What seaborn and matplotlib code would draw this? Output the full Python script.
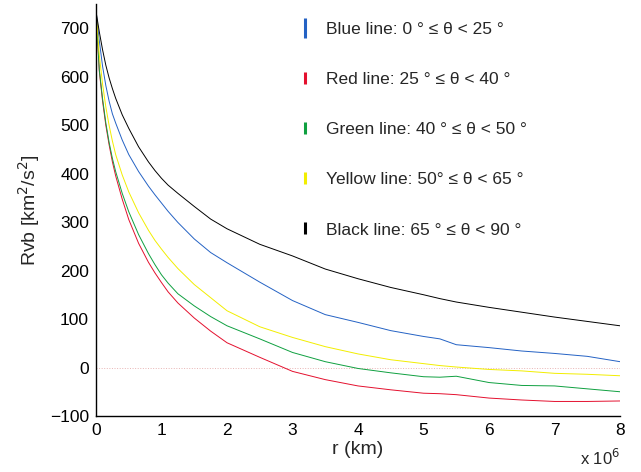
import numpy as np
import pandas as pd
import matplotlib
matplotlib.use("Agg")
import matplotlib.pyplot as plt
from matplotlib.lines import Line2D
import seaborn as sns

# r in units of 1e6 km
r = [0, 0.05, 0.1, 0.15, 0.2, 0.25, 0.3, 0.4, 0.5, 0.65, 0.8, 0.9, 1.0, 1.1,
     1.25, 1.5, 1.75, 2.0, 2.5, 3.0, 3.5, 4.0, 4.5, 5.0, 5.25, 5.5, 6.0, 6.5,
     7.0, 7.5, 8.0]

blue = [735, 675, 622, 582, 550, 524, 505, 470, 440, 405, 375, 357, 340, 323,
        300, 266, 238, 217, 177, 139, 110, 94, 77, 65, 60, 48, 42, 35, 30, 24, 13]
red = [735, 612, 550, 500, 460, 425, 396, 348, 306, 257, 218, 196, 176, 157,
       134, 103, 76, 52, 22, -7, -24, -37, -45, -52, -53, -55, -62, -66, -69,
       -69, -68]
green = [735, 615, 555, 505, 465, 432, 405, 360, 322, 275, 236, 213, 192, 175,
         153, 128, 106, 87, 60, 32, 13, -1, -10, -18, -19, -17, -30, -36, -37,
         -43, -49]
yellow = [735, 645, 585, 538, 500, 468, 440, 398, 363, 320, 284, 263, 245, 228,
          205, 172, 145, 118, 85, 63, 44, 29, 17, 9, 5, 2, -3, -6, -11, -13, -16]
black = [735, 693, 656, 624, 598, 576, 556, 522, 494, 456, 425, 407, 391, 377,
         360, 333, 307, 287, 255, 231, 204, 184, 166, 151, 143, 136, 125, 115,
         105, 96, 87]

names = ["Blue", "Red", "Green", "Yellow", "Black"]
labels = ["Blue line: 0 \u00b0 \u2264 \u03b8 < 25 \u00b0",
          "Red line: 25 \u00b0 \u2264 \u03b8 < 40 \u00b0",
          "Green line: 40 \u00b0 \u2264 \u03b8 < 50 \u00b0",
          "Yellow line: 50\u00b0 \u2264 \u03b8 < 65 \u00b0",
          "Black line: 65 \u00b0 \u2264 \u03b8 < 90 \u00b0"]
colors = ["#2462c4", "#e4102e", "#0fa040", "#f2ee00", "#000000"]

df = pd.concat([pd.DataFrame({"r": r, "Rvb": v, "line": n})
                for n, v in zip(names, [blue, red, green, yellow, black])])

sns.set_style("white")
plt.rcParams["font.family"] = ["Liberation Sans", "DejaVu Sans"]

fig = plt.figure(figsize=(6.41, 4.72), dpi=100)
ax = fig.add_axes([0.1498, 0.1176, 0.8175, 0.8735])

ax.axhline(0, color="#e8b4b4", linestyle=":", linewidth=0.7, zorder=0)
sns.lineplot(data=df, x="r", y="Rvb", hue="line", palette=dict(zip(names, colors)),
             linewidth=0.7, legend=False, ax=ax, estimator=None, sort=False)

ax.set_xlim(0, 8)
ax.set_ylim(-100, 750)
ax.set_xticks(range(0, 9))
ax.set_yticks(range(-100, 701, 100))
ax.tick_params(direction="in", length=5, width=1, labelsize=12.5, pad=5,
               colors="black")
for s in ["top", "right"]:
    ax.spines[s].set_visible(False)
for s in ["left", "bottom"]:
    ax.spines[s].set_color("black")
    ax.spines[s].set_linewidth(1)

ax.set_xlabel("r (km)", fontsize=14, labelpad=2)
ax.set_ylabel("Rvb [km$^2$/s$^2$]", fontsize=14, labelpad=6)
ax.text(1.0, -0.077, "x 10$^6$", transform=ax.transAxes, ha="right", va="top",
        fontsize=12)

handles = [Line2D([], [], color=c, marker="|", linestyle="None",
                  markersize=14 if i == 0 else 9, markeredgewidth=2.2)
           for i, c in enumerate(colors)]
ax.legend(handles, labels, loc="upper left", bbox_to_anchor=(0.383, 0.958),
          frameon=False, fontsize=12.5, handlelength=1.0, handletextpad=0.7,
          labelspacing=2.02, borderpad=0, borderaxespad=0)

fig.savefig("out.png", dpi=100)
